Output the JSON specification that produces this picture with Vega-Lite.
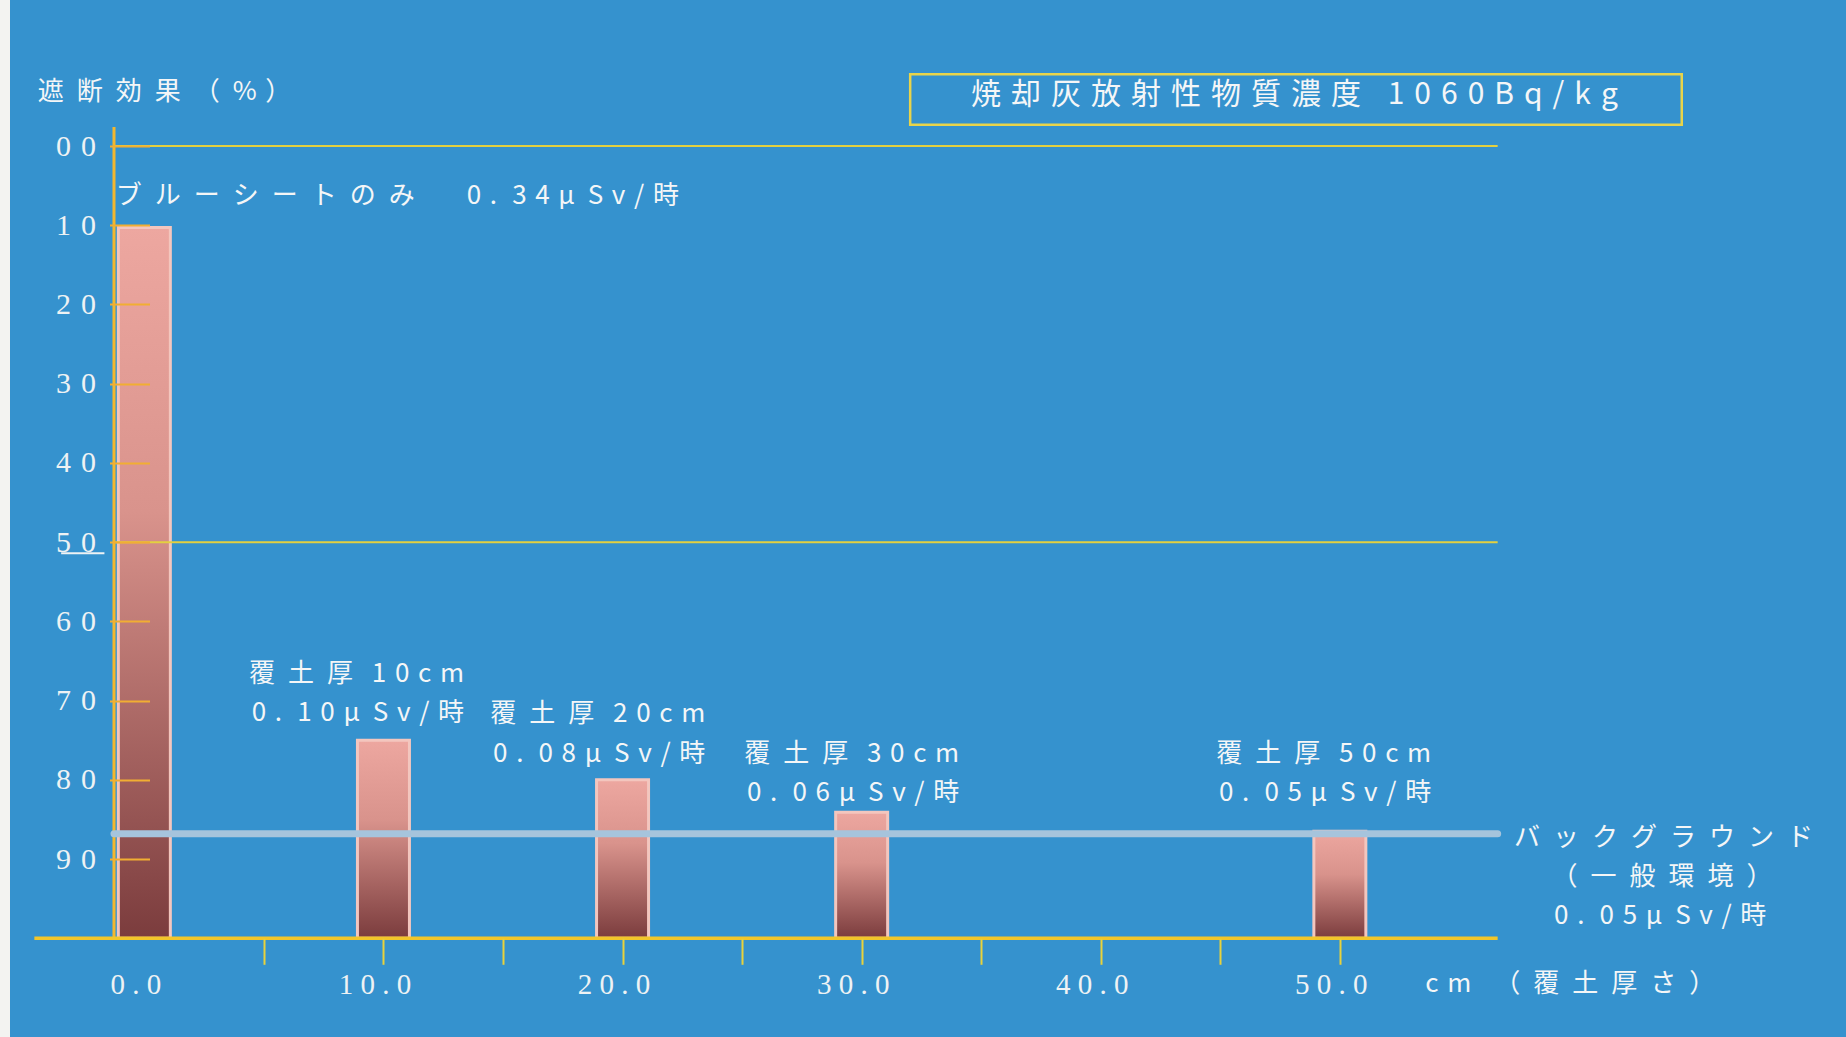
{
  "$schema": "https://vega.github.io/schema/vega-lite/v6.json",
  "width": 1836,
  "height": 1037,
  "padding": {"left": 10, "top": 0, "right": 0, "bottom": 0},
  "autosize": {"type": "none"},
  "background": "#f3f3f1",
  "view": {"fill": "#3592ce", "stroke": null},
  "config": {"text": {"font": "Noto Sans CJK JP"}},
  "layer": [
    {
      "data": {"values": [
        {"cm": 0, "effect": 10.3},
        {"cm": 10, "effect": 75.0},
        {"cm": 20, "effect": 80.0},
        {"cm": 30, "effect": 84.1},
        {"cm": 50, "effect": 86.5}
      ]},
      "mark": {
        "type": "bar",
        "width": 52,
        "stroke": "#f3c6be",
        "strokeWidth": 3,
        "fill": {"gradient": "linear", "x1": 0, "y1": 0, "x2": 0, "y2": 1,
          "stops": [
            {"offset": 0, "color": "#eda7a0"},
            {"offset": 0.4, "color": "#d9938c"},
            {"offset": 1, "color": "#7b3c3d"}
          ]}
      },
      "encoding": {
        "x": {
          "field": "cm", "type": "quantitative",
          "scale": {"domain": [-5.41, 70.96], "nice": false, "zero": false},
          "axis": {
            "values": [0, 5, 10, 15, 20, 25, 30, 35, 40, 45, 50],
            "domain": false, "grid": false, "offset": -98.7, "zindex": 1,
            "tickSize": 26, "tickWidth": 2,
            "tickColor": {"condition": {"test": "datum.value == 0", "value": "transparent"}, "value": "#e8d23c"},
            "labelExpr": "datum.value % 10 == 0 ? join(split(format(datum.value, '.1f'), ''), '\u2005') : ''",
            "labelFont": "Liberation Serif", "labelFontSize": 29, "labelColor": "#eef2f4",
            "labelBaseline": "middle",
            "labelPadding": 20, "labelOffset": -9, "labelOverlap": false, "labelFlush": false,
            "title": null
          }
        },
        "y": {
          "field": "effect", "type": "quantitative",
          "scale": {"domain": [-18.43, 112.46], "reverse": true, "nice": false, "zero": false},
          "axis": {
            "values": [0, 10, 20, 30, 40, 50, 60, 70, 80, 90],
            "domain": false, "grid": false, "offset": -99.5, "zindex": 1,
            "tickSize": -40, "tickWidth": 2, "tickColor": "#f1ae33",
            "labelExpr": "join(split(datum.value == 0 ? '00' : format(datum.value, 'd'), ''), '\u2004')",
            "labelFont": "Liberation Serif", "labelFontSize": 30, "labelColor": "#eef2f4",
            "labelPadding": 54, "labelOverlap": false, "labelFlush": false,
            "title": null
          }
        },
        "y2": {"datum": 100}
      }
    },
    {
      "data": {"values": [{"caption": "焼却灰放射性物質濃度 1060Bq/kg", "x": 32.03, "x2": 64.3, "y": -9.06, "y2": -2.67}]},
      "mark": {"type": "rect", "filled": false, "stroke": "#e8d44a", "strokeWidth": 2.5},
      "encoding": {
        "x": {"field": "x", "type": "quantitative", "scale": {"domain": [-5.41, 70.96], "nice": false, "zero": false}},
        "x2": {"field": "x2"},
        "y": {"field": "y", "type": "quantitative", "scale": {"domain": [-18.43, 112.46], "reverse": true, "nice": false, "zero": false}},
        "y2": {"field": "y2"}
      }
    },
    {
      "data": {"values": [{"level": 0}, {"level": 50}]},
      "mark": {"type": "rule", "color": "#e3d040", "strokeWidth": 2},
      "encoding": {
        "y": {"field": "level", "type": "quantitative", "scale": {"domain": [-18.43, 112.46], "reverse": true, "nice": false, "zero": false}},
        "x": {"datum": -1.27, "type": "quantitative", "scale": {"domain": [-5.41, 70.96], "nice": false, "zero": false}},
        "x2": {"datum": 56.6}
      }
    },
    {
      "data": {"values": [{"axis": "y"}]},
      "mark": {"type": "rule", "color": "#f3b72e", "strokeWidth": 3},
      "encoding": {
        "x": {"datum": -1.27, "type": "quantitative", "scale": {"domain": [-5.41, 70.96], "nice": false, "zero": false}},
        "y": {"datum": -2.4, "type": "quantitative", "scale": {"domain": [-18.43, 112.46], "reverse": true, "nice": false, "zero": false}},
        "y2": {"datum": 100}
      }
    },
    {
      "data": {"values": [{"axis": "x"}]},
      "mark": {"type": "rule", "color": "#f2c62a", "strokeWidth": 3.5},
      "encoding": {
        "y": {"datum": 100, "type": "quantitative", "scale": {"domain": [-18.43, 112.46], "reverse": true, "nice": false, "zero": false}},
        "x": {"datum": -4.6, "type": "quantitative", "scale": {"domain": [-5.41, 70.96], "nice": false, "zero": false}},
        "x2": {"datum": 56.6}
      }
    },
    {
      "data": {"values": [{"label": "バックグラウンド", "effect": 86.8}]},
      "mark": {"type": "rule", "color": "#a6c4dc", "strokeWidth": 7, "strokeCap": "round"},
      "encoding": {
        "y": {"field": "effect", "type": "quantitative", "scale": {"domain": [-18.43, 112.46], "reverse": true, "nice": false, "zero": false}},
        "x": {"datum": -1.27, "type": "quantitative", "scale": {"domain": [-5.41, 70.96], "nice": false, "zero": false}},
        "x2": {"datum": 56.6}
      }
    },
    {
      "data": {"values": [{"label": "50", "x": -3.48, "x2": -1.67, "y": 51.4}]},
      "mark": {"type": "rule", "color": "#eef2f4", "strokeWidth": 2},
      "encoding": {
        "x": {"field": "x", "type": "quantitative", "scale": {"domain": [-5.41, 70.96], "nice": false, "zero": false}},
        "x2": {"field": "x2"},
        "y": {"field": "y", "type": "quantitative", "scale": {"domain": [-18.43, 112.46], "reverse": true, "nice": false, "zero": false}}
      }
    },
    {
      "data": {"values": [
        {"t": "遮断効果（%）", "x": -4.46, "y": -6.84},
        {"t": "ブルーシートのみ　0.34μSv/時", "x": -1.2, "y": 6.3},
        {"t": "cm （覆土厚さ）", "x": 53.57, "y": 105.8}
      ]},
      "transform": [{"calculate": "replace(replace(replace(datum.t, regexp('([ -~])(?=.)', 'g'), '$1\u2004'), regexp('([^ -~\u2004\u2005])(?=.)', 'g'), '$1\u2002'), regexp('[.]', 'g'), '.\u2005')", "as": "s"}],
      "mark": {"type": "text", "align": "left", "baseline": "middle", "fontSize": 26, "color": "#f4f6f7"},
      "encoding": {
        "text": {"field": "s"},
        "x": {"field": "x", "type": "quantitative", "scale": {"domain": [-5.41, 70.96], "nice": false, "zero": false}},
        "y": {"field": "y", "type": "quantitative", "scale": {"domain": [-18.43, 112.46], "reverse": true, "nice": false, "zero": false}}
      }
    },
    {
      "data": {"values": [
        {"t": "覆土厚 10cm", "x": 13.37, "y": 66.7},
        {"t": "0.10μSv/時", "x": 13.37, "y": 71.6},
        {"t": "覆土厚 20cm", "x": 23.46, "y": 71.7},
        {"t": "0.08μSv/時", "x": 23.46, "y": 76.7},
        {"t": "覆土厚 30cm", "x": 34.08, "y": 76.7},
        {"t": "0.06μSv/時", "x": 34.08, "y": 81.6},
        {"t": "覆土厚 50cm", "x": 53.82, "y": 76.7},
        {"t": "0.05μSv/時", "x": 53.82, "y": 81.6}
      ]},
      "transform": [{"calculate": "replace(replace(replace(datum.t, regexp('([!-~])(?=.)', 'g'), '$1\u2004'), regexp('([^ -~\u2004\u2005])(?=.)', 'g'), '$1\u2002'), regexp('[.]', 'g'), '.\u2005')", "as": "s"}],
      "mark": {"type": "text", "align": "right", "baseline": "middle", "fontSize": 26, "color": "#f4f6f7"},
      "encoding": {
        "text": {"field": "s"},
        "x": {"field": "x", "type": "quantitative", "scale": {"domain": [-5.41, 70.96], "nice": false, "zero": false}},
        "y": {"field": "y", "type": "quantitative", "scale": {"domain": [-18.43, 112.46], "reverse": true, "nice": false, "zero": false}}
      }
    },
    {
      "data": {"values": [
        {"t": "バックグラウンド", "x": 63.54, "y": 87.4},
        {"t": "（一般環境）", "x": 63.47, "y": 92.3},
        {"t": "0.05μSv/時", "x": 63.4, "y": 97.2}
      ]},
      "transform": [{"calculate": "replace(replace(replace(datum.t, regexp('([ -~])(?=.)', 'g'), '$1\u2004'), regexp('([^ -~\u2004\u2005])(?=.)', 'g'), '$1\u2002'), regexp('[.]', 'g'), '.\u2005')", "as": "s"}],
      "mark": {"type": "text", "align": "center", "baseline": "middle", "fontSize": 26, "color": "#f4f6f7"},
      "encoding": {
        "text": {"field": "s"},
        "x": {"field": "x", "type": "quantitative", "scale": {"domain": [-5.41, 70.96], "nice": false, "zero": false}},
        "y": {"field": "y", "type": "quantitative", "scale": {"domain": [-18.43, 112.46], "reverse": true, "nice": false, "zero": false}}
      }
    },
    {
      "data": {"values": [
        {"t": "焼却灰放射性物質濃度 1060Bq/kg", "x": 48.1, "y": -6.39}
      ]},
      "transform": [{"calculate": "replace(replace(datum.t, regexp('([ -~])(?=.)', 'g'), '$1\u2004'), regexp('([^ -~\u2004])(?=.)', 'g'), '$1\u2004')", "as": "s"}],
      "mark": {"type": "text", "align": "center", "baseline": "middle", "fontSize": 30, "color": "#f4f6f7"},
      "encoding": {
        "text": {"field": "s"},
        "x": {"field": "x", "type": "quantitative", "scale": {"domain": [-5.41, 70.96], "nice": false, "zero": false}},
        "y": {"field": "y", "type": "quantitative", "scale": {"domain": [-18.43, 112.46], "reverse": true, "nice": false, "zero": false}}
      }
    }
  ]
}
